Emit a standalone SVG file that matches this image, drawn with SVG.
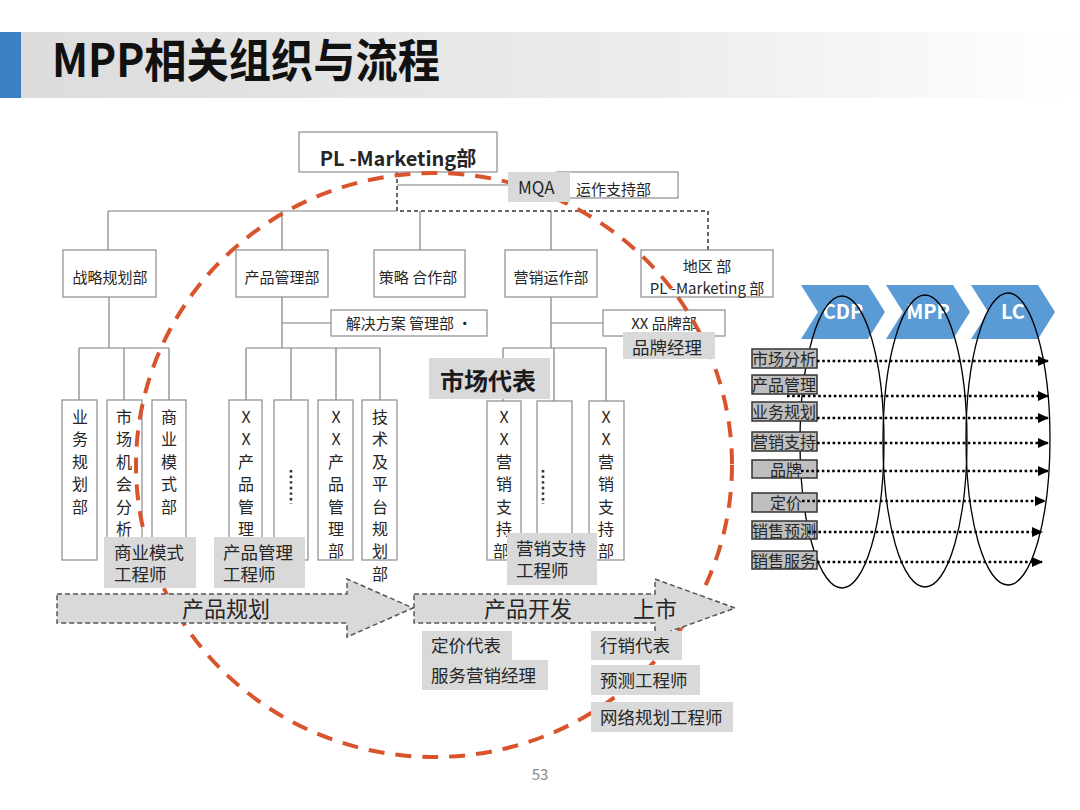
<svg xmlns="http://www.w3.org/2000/svg" width="1080" height="810" viewBox="0 0 1080 810">
<defs>
<linearGradient id="band" x1="0" y1="0" x2="1" y2="0">
<stop offset="0" stop-color="#dcdcdc"/>
<stop offset="0.6" stop-color="#ececec"/>
<stop offset="1" stop-color="#ffffff"/>
</linearGradient>
<marker id="ah" markerWidth="11" markerHeight="10" refX="10" refY="5" orient="auto" markerUnits="userSpaceOnUse">
<path d="M0,0 L11,5 L0,10 z" fill="#000"/>
</marker>
<style>
text{font-family:"Noto Sans CJK SC","Liberation Sans",sans-serif;fill:#262626}
.box{fill:#fff;stroke:#8a8a8a;stroke-width:1.2}
.ln{stroke:#7f7f7f;stroke-width:1.2;fill:none}
.dl{stroke:#333;stroke-width:1.5;stroke-dasharray:4 3;fill:none}
.t15{font-size:15px}
.t16{font-size:16px}
.t17{font-size:17.5px}
.vt{font-size:16px;text-anchor:middle}
.gb{fill:#d9d9d9}
.lab{fill:#bfbfbf;stroke:#333;stroke-width:1.5}
.dot{stroke:#000;stroke-width:2.6;stroke-dasharray:2.6 2.6;fill:none}
.ell{fill:none;stroke:#000;stroke-width:1.3}
.chev{fill:#5b9bd5}
.ct{font-size:20px;font-weight:bold;fill:#fff;text-anchor:middle}
.arr{fill:#d9d9d9;stroke:#555;stroke-width:1.5;stroke-dasharray:5 3}
.pt{font-size:22px}
</style>
</defs>

<!-- Title -->
<g id="title">
<rect x="20" y="32" width="1060" height="66" fill="url(#band)"/>
<rect x="0" y="32" width="21" height="66" fill="#3b7fc4"/>
<text x="52" y="77" font-size="46" font-weight="bold" style="fill:#111" textLength="388" lengthAdjust="spacingAndGlyphs">MPP相关组织与流程</text>
</g>

<!-- connectors -->
<g id="connectors">
<line class="ln" x1="397" y1="185" x2="510" y2="185"/>
<line class="ln" x1="108" y1="211" x2="397" y2="211"/>
<line class="ln" x1="108" y1="211" x2="108" y2="250"/>
<line class="ln" x1="282" y1="211" x2="282" y2="250"/>
<line class="ln" x1="420" y1="211" x2="420" y2="250"/>
<line class="ln" x1="551" y1="211" x2="551" y2="250"/>
<path class="dl" d="M397,172 V211 H708 V250"/>
<line class="ln" x1="109" y1="297" x2="109" y2="348"/>
<line class="ln" x1="79" y1="348" x2="169" y2="348"/>
<line class="ln" x1="79" y1="348" x2="79" y2="400"/>
<line class="ln" x1="124" y1="348" x2="124" y2="400"/>
<line class="ln" x1="169" y1="348" x2="169" y2="400"/>
<line class="ln" x1="282" y1="297" x2="282" y2="348"/>
<line class="ln" x1="282" y1="323" x2="331" y2="323"/>
<line class="ln" x1="246" y1="348" x2="380" y2="348"/>
<line class="ln" x1="246" y1="348" x2="246" y2="400"/>
<line class="ln" x1="291" y1="348" x2="291" y2="400"/>
<line class="ln" x1="336" y1="348" x2="336" y2="400"/>
<line class="ln" x1="380" y1="348" x2="380" y2="400"/>
<line class="ln" x1="551" y1="297" x2="551" y2="348"/>
<line class="ln" x1="551" y1="323" x2="603" y2="323"/>
<line class="ln" x1="503" y1="348" x2="606" y2="348"/>
<line class="ln" x1="503" y1="348" x2="503" y2="401"/>
<line class="ln" x1="554" y1="348" x2="554" y2="401"/>
<line class="ln" x1="606" y1="348" x2="606" y2="401"/>
</g>

<!-- top node -->
<g id="pl-marketing">
<rect class="box" x="299" y="132" width="198" height="40"/>
<text x="398" y="166" font-size="20" font-weight="bold" text-anchor="middle">PL -Marketing部</text>
</g>
<g id="yunzuo">
<rect class="box" x="557" y="172" width="121" height="26"/>
<text class="t15" x="576" y="195">运作支持部</text>
</g>

<!-- second row -->
<g id="zhanlue"><rect class="box" x="63" y="250" width="93" height="47"/><text class="t15" x="110" y="283" text-anchor="middle">战略规划部</text></g>
<g id="chanpin"><rect class="box" x="236" y="250" width="92" height="47"/><text class="t15" x="282" y="283" text-anchor="middle">产品管理部</text></g>
<g id="celue"><rect class="box" x="374" y="250" width="91" height="47"/><text class="t15" x="418" y="283" text-anchor="middle">策略 合作部</text></g>
<g id="yingxiao"><rect class="box" x="505" y="250" width="92" height="47"/><text class="t15" x="551" y="283" text-anchor="middle">营销运作部</text></g>
<g id="diqu"><rect class="box" x="641" y="250" width="132" height="47"/><text class="t15" x="707" y="272" text-anchor="middle">地区 部</text><text class="t15" x="707" y="294" text-anchor="middle">PL -Marketing 部</text></g>
<g id="jiejue"><rect class="box" x="331" y="310" width="156" height="26"/><text class="t15" x="409" y="329" text-anchor="middle">解决方案 管理部 ·</text></g>
<g id="pinpaibu"><rect class="box" x="603" y="310" width="122" height="26"/><text class="t15" x="664" y="329" text-anchor="middle">XX 品牌部</text></g>

<!-- third row vertical boxes -->
<g id="yewu"><rect class="box" x="62" y="400" width="35" height="160"/>
<text class="vt" x="80" y="423"><tspan x="80">业</tspan><tspan x="80" dy="22.4">务</tspan><tspan x="80" dy="22.4">规</tspan><tspan x="80" dy="22.4">划</tspan><tspan x="80" dy="22.4">部</tspan></text></g>
<g id="shichang"><rect class="box" x="107" y="400" width="35" height="160"/>
<text class="vt" x="124" y="423"><tspan x="124">市</tspan><tspan x="124" dy="22.4">场</tspan><tspan x="124" dy="22.4">机</tspan><tspan x="124" dy="22.4">会</tspan><tspan x="124" dy="22.4">分</tspan><tspan x="124" dy="22.2">析</tspan></text></g>
<g id="shangye"><rect class="box" x="152" y="400" width="34" height="160"/>
<text class="vt" x="169" y="423"><tspan x="169">商</tspan><tspan x="169" dy="22.4">业</tspan><tspan x="169" dy="22.4">模</tspan><tspan x="169" dy="22.4">式</tspan><tspan x="169" dy="22.4">部</tspan></text></g>

<g id="xxcp1"><rect class="box" x="229" y="400" width="33" height="160"/>
<text class="vt" x="246" y="423"><tspan x="246">X</tspan><tspan x="246" dy="22.4">X</tspan><tspan x="246" dy="22.4">产</tspan><tspan x="246" dy="22.4">品</tspan><tspan x="246" dy="22.4">管</tspan><tspan x="246" dy="22.2">理</tspan></text></g>
<g id="cpdots"><rect class="box" x="274" y="400" width="34" height="160"/>
<line x1="291" y1="470" x2="291" y2="504" stroke="#333" stroke-width="2.6" stroke-dasharray="2.4 3.2"/></g>
<g id="xxcp2"><rect class="box" x="318" y="400" width="35" height="160"/>
<text class="vt" x="336" y="423"><tspan x="336">X</tspan><tspan x="336" dy="22.4">X</tspan><tspan x="336" dy="22.4">产</tspan><tspan x="336" dy="22.4">品</tspan><tspan x="336" dy="22.4">管</tspan><tspan x="336" dy="22.4">理</tspan><tspan x="336" dy="22.4">部</tspan></text></g>
<g id="jishu"><rect class="box" x="362" y="400" width="35" height="160"/>
<text class="vt" x="380" y="423"><tspan x="380">技</tspan><tspan x="380" dy="22.4">术</tspan><tspan x="380" dy="22.4">及</tspan><tspan x="380" dy="22.4">平</tspan><tspan x="380" dy="22.4">台</tspan><tspan x="380" dy="22.4">规</tspan><tspan x="380" dy="22.4">划</tspan><tspan x="380" dy="22.4">部</tspan></text></g>

<g id="xxyx1"><rect class="box" x="487" y="401" width="34" height="159"/>
<text class="vt" x="504" y="423"><tspan x="504">X</tspan><tspan x="504" dy="22.4">X</tspan><tspan x="504" dy="22.4">营</tspan><tspan x="504" dy="22.4">销</tspan><tspan x="504" dy="22.4">支</tspan><tspan x="504" dy="22.4">持</tspan><tspan x="501" dy="22.4">部</tspan></text></g>
<g id="yxdots"><rect class="box" x="537" y="401" width="35" height="159"/>
<line x1="543" y1="470" x2="543" y2="504" stroke="#333" stroke-width="2.6" stroke-dasharray="2.4 3.2"/></g>
<g id="xxyx2"><rect class="box" x="589" y="401" width="35" height="159"/>
<text class="vt" x="606" y="423"><tspan x="606">X</tspan><tspan x="606" dy="22.4">X</tspan><tspan x="606" dy="22.4">营</tspan><tspan x="606" dy="22.4">销</tspan><tspan x="606" dy="22.4">支</tspan><tspan x="606" dy="22.4">持</tspan><tspan x="606" dy="22.4">部</tspan></text></g>

<!-- red dashed circle -->
<g id="circle">
<ellipse cx="434" cy="465" rx="298" ry="292" fill="none" stroke="#d9542c" stroke-width="4" stroke-dasharray="16 11"/>
</g>

<!-- process arrows -->
<g id="arrow-plan">
<polygon class="arr" points="57,594 347,594 347,579 413,608 347,637 347,623 57,623"/>
<text class="pt" x="226" y="617" text-anchor="middle">产品规划</text>
</g>
<g id="arrow-dev">
<polygon class="arr" points="414,594 655,594 655,579 735,608 655,637 655,623 414,623"/>
<text class="pt" x="528" y="617" text-anchor="middle">产品开发</text>
<text class="pt" x="655" y="617" text-anchor="middle">上市</text>
</g>

<!-- gray role labels -->
<g id="mqa"><rect class="gb" x="508" y="172" width="62" height="30"/><text x="518" y="194" font-size="17">MQA</text></g>
<g id="pinpaijingli"><rect class="gb" x="623" y="332" width="92" height="27"/><text class="t17" x="632" y="354">品牌经理</text></g>
<g id="shichangdaibiao"><rect class="gb" x="429" y="358" width="121" height="41"/><text x="440" y="390" font-size="24" font-weight="bold" style="fill:#1a1a1a">市场代表</text></g>
<g id="symsgcs"><rect class="gb" x="104" y="537" width="92" height="51"/><text class="t17" x="114" y="559">商业模式</text><text class="t17" x="114" y="581">工程师</text></g>
<g id="cpglgcs"><rect class="gb" x="214" y="537" width="91" height="51"/><text class="t17" x="223" y="559">产品管理</text><text class="t17" x="223" y="581">工程师</text></g>
<g id="yxzcgcs"><rect class="gb" x="507" y="533" width="90" height="52"/><text class="t17" x="516" y="555">营销支持</text><text class="t17" x="516" y="577">工程师</text></g>
<g id="dingjia"><rect class="gb" x="422" y="631" width="90" height="30"/><rect class="gb" x="422" y="660" width="126" height="30"/>
<text class="t17" x="431" y="652">定价代表</text><text class="t17" x="431" y="682">服务营销经理</text></g>
<g id="hangxiao"><rect class="gb" x="591" y="631" width="91" height="29"/><text class="t17" x="600" y="652">行销代表</text></g>
<g id="yuce"><rect class="gb" x="591" y="665" width="109" height="30"/><text class="t17" x="600" y="687">预测工程师</text></g>
<g id="wangluo"><rect class="gb" x="591" y="702" width="142" height="30"/><text class="t17" x="600" y="724">网络规划工程师</text></g>

<!-- right panel -->
<g id="chev-cdp"><polygon class="chev" points="801,285 868,285 885,312 868,339 801,339 818,312"/><text class="ct" x="843" y="319">CDP</text></g>
<g id="chev-mpp"><polygon class="chev" points="886,285 953,285 970,312 953,339 886,339 903,312"/><text class="ct" x="928" y="319">MPP</text></g>
<g id="chev-lc"><polygon class="chev" points="971,285 1038,285 1055,312 1038,339 971,339 988,312"/><text class="ct" x="1013" y="319">LC</text></g>

<g id="ellipses">
<ellipse class="ell" cx="842" cy="442" rx="42" ry="146"/>
<ellipse class="ell" cx="925" cy="441" rx="42" ry="146"/>
<ellipse class="ell" cx="1008" cy="439" rx="42" ry="146"/>
</g>

<g id="lab-scfx"><rect class="lab" x="752" y="349" width="65" height="19"/><text class="t16" x="784" y="365" text-anchor="middle">市场分析</text></g>
<g id="lab-cpgl"><rect class="lab" x="752" y="375" width="65" height="19"/><text class="t16" x="784" y="391" text-anchor="middle">产品管理</text></g>
<g id="lab-ywgh"><rect class="lab" x="752" y="402" width="65" height="19"/><text class="t16" x="784" y="418" text-anchor="middle">业务规划</text></g>
<g id="lab-yxzc"><rect class="lab" x="752" y="432" width="65" height="19"/><text class="t16" x="784" y="448" text-anchor="middle">营销支持</text></g>
<g id="lab-pp"><rect class="lab" x="752" y="460" width="65" height="18"/><text class="t16" x="786" y="476" text-anchor="middle">品牌</text></g>
<g id="lab-dj"><rect class="lab" x="752" y="493" width="65" height="19"/><text class="t16" x="786" y="509" text-anchor="middle">定价</text></g>
<g id="lab-xsyc"><rect class="lab" x="752" y="521" width="65" height="18"/><text class="t16" x="784" y="537" text-anchor="middle">销售预测</text></g>
<g id="lab-xsfw"><rect class="lab" x="752" y="551" width="65" height="18"/><text class="t16" x="784" y="567" text-anchor="middle">销售服务</text></g>

<g id="dotted-arrows">
<line class="dot" x1="817" y1="361" x2="1048" y2="361" marker-end="url(#ah)"/>
<line class="dot" x1="787" y1="396" x2="1048" y2="396" marker-end="url(#ah)"/>
<line class="dot" x1="817" y1="418" x2="1048" y2="418" marker-end="url(#ah)"/>
<line class="dot" x1="817" y1="443" x2="1048" y2="443" marker-end="url(#ah)"/>
<line class="dot" x1="801" y1="471" x2="1048" y2="471" marker-end="url(#ah)"/>
<line class="dot" x1="802" y1="501" x2="1045" y2="501" marker-end="url(#ah)"/>
<line class="dot" x1="808" y1="532" x2="1042" y2="532" marker-end="url(#ah)"/>
<line class="dot" x1="817" y1="562" x2="1042" y2="562" marker-end="url(#ah)"/>
</g>

<g id="page"><text x="540" y="780" font-size="15" text-anchor="middle" style="fill:#888">53</text></g>
</svg>
